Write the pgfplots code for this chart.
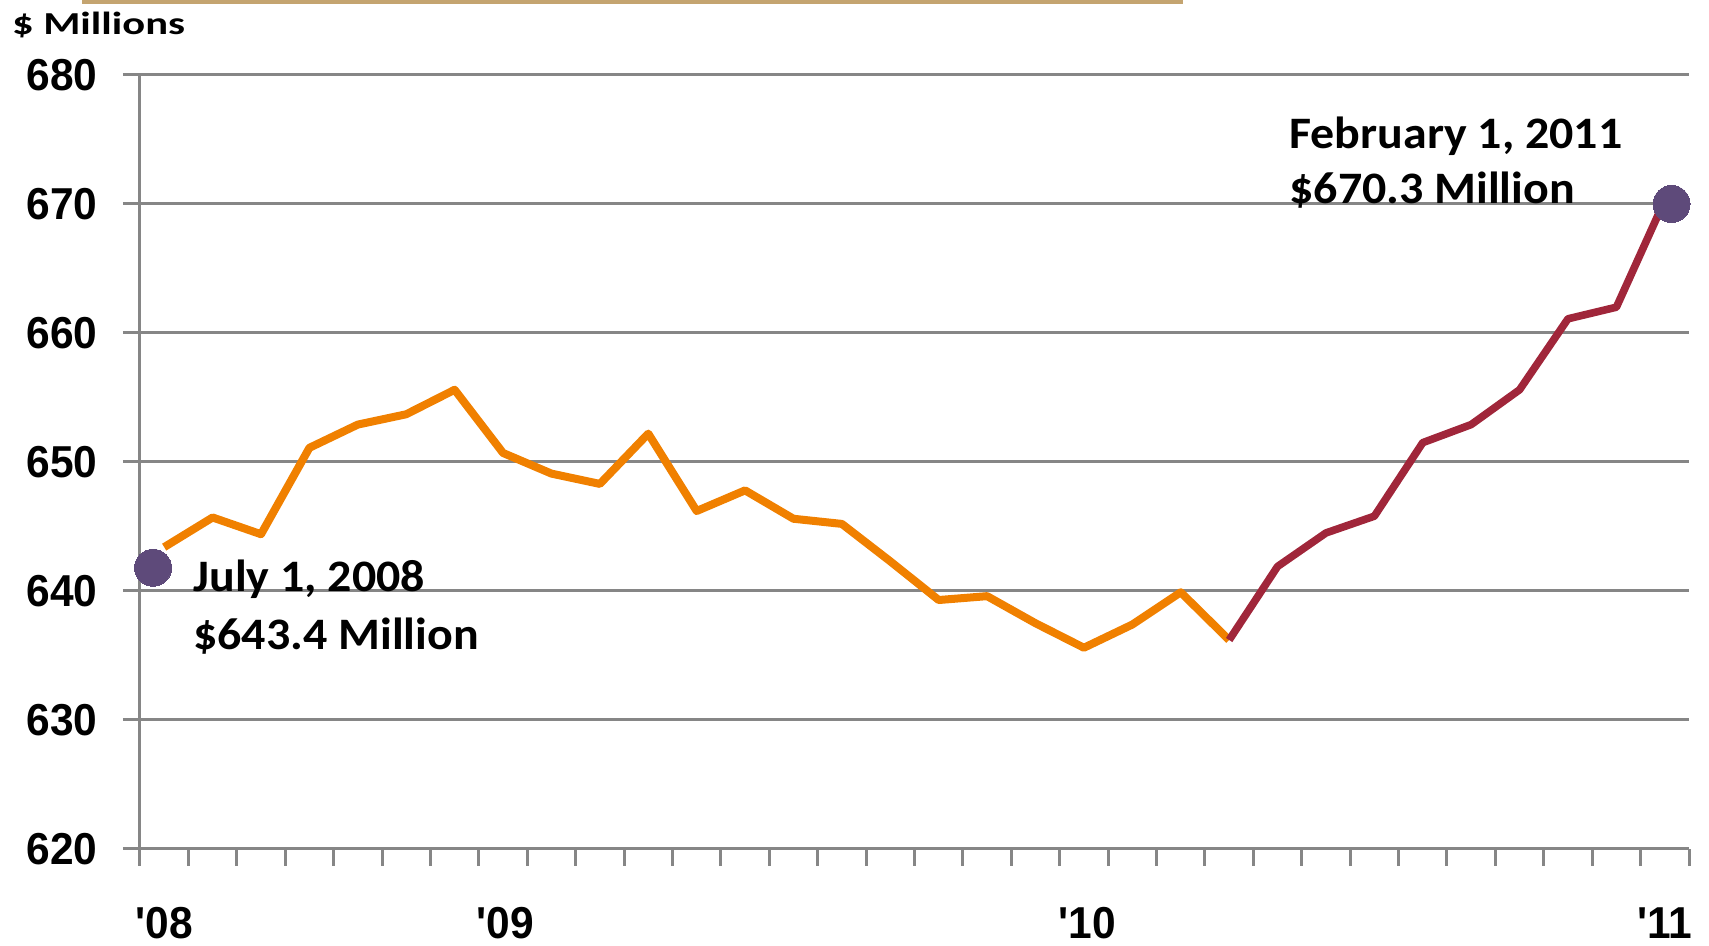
\documentclass[border=0pt]{standalone}
\usepackage{pgfplots}
\pgfplotsset{compat=1.18}
\usepackage{fontspec}
\setmainfont{Liberation Sans}
\newfontfamily\tickfont{Liberation Sans}[FakeStretch=0.95]
\newfontfamily\annfont{Carlito}[FakeStretch=1.065]
\newfontfamily\unitfont{Carlito}[FakeStretch=1.33]
\definecolor{gridgray}{RGB}{134,134,134}
\definecolor{lineorange}{RGB}{240,128,0}
\definecolor{linered}{RGB}{160,38,58}
\definecolor{dotpurple}{RGB}{94,74,122}
\definecolor{goldbar}{RGB}{196,164,112}
\begin{document}
\begin{tikzpicture}
\path[use as bounding box] (0,0) rectangle (854.5pt,473pt);
\fill[goldbar] (41pt,471pt) rectangle (591.5pt,473pt);
\begin{axis}[
  at={(70pt,48.5pt)}, anchor=south west,
  scale only axis, width=774.5pt, height=387pt,
  xmin=-0.5, xmax=31.5, ymin=620, ymax=680,
  clip=false,
  /pgf/number format/assume math mode=true,
  ytick={620,630,...,680},
  xtick={-0.5,0.5,...,31.5},
  xticklabels={},
  extra x ticks={0,7.04,19.07,31},
  extra x tick labels={\textquotesingle08,\textquotesingle09,\textquotesingle10,\textquotesingle11},
  extra x tick style={major tick length=0pt, xticklabel style={anchor=north, inner sep=0pt, yshift=-29pt}},
  axis lines*=left,
  axis line style={-, draw=gridgray, line width=1.5pt},
  ymajorgrids,
  major grid style={draw=gridgray, line width=1.5pt},
  tick style={draw=gridgray, line width=1.5pt},
  tick align=outside,
  major tick length=8.5pt,
  ticklabel style={font=\tickfont\bfseries\fontsize{22.35}{26}\selectfont, text=black},
  yticklabel style={anchor=east, inner sep=0pt, xshift=-12.5pt},
]
\addplot[lineorange, line width=4pt, line join=round] coordinates {
(0,643.4) (1,645.7) (2,644.4) (3,651.1) (4,652.9) (5,653.7) (6,655.6) (7,650.7)
(8,649.1) (9,648.3) (10,652.2) (11,646.2) (12,647.8) (13,645.6) (14,645.2) (15,642.3)
(16,639.3) (17,639.6) (18,637.5) (19,635.6) (20,637.4) (21,639.9) (22,636.2)};
\addplot[linered, line width=3.8pt, line join=round] coordinates {
(22,636.2) (23,641.9) (24,644.5) (25,645.8) (26,651.5) (27,652.9) (28,655.6)
(29,661.1) (30,662.0) (31,670.3)};
\addplot[only marks, mark=*, mark size=9.25pt, mark options={fill=dotpurple, draw=dotpurple, line width=0pt}] coordinates {(-0.23,641.8) (31.14,670.0)};
\end{axis}
\node[anchor=base west, inner sep=0pt, font=\unitfont\bfseries\fontsize{16}{19}\selectfont] at (5.85pt,455.5pt) {\$ Millions};
\node[anchor=base west, inner sep=0pt, font=\annfont\bfseries\fontsize{22.5}{27}\selectfont] at (96.5pt,177.15pt) {July 1, 2008};
\node[anchor=base west, inner sep=0pt, font=\annfont\bfseries\fontsize{22.5}{27}\selectfont] at (96.5pt,148pt) {\$643.4 Million};
\node[anchor=base west, inner sep=0pt, font=\annfont\bfseries\fontsize{22.5}{27}\selectfont] at (644.5pt,398.9pt) {February 1, 2011};
\node[anchor=base west, inner sep=0pt, font=\annfont\bfseries\fontsize{22.5}{27}\selectfont] at (644.5pt,371pt) {\$670.3 Million};
\end{tikzpicture}
\end{document}
